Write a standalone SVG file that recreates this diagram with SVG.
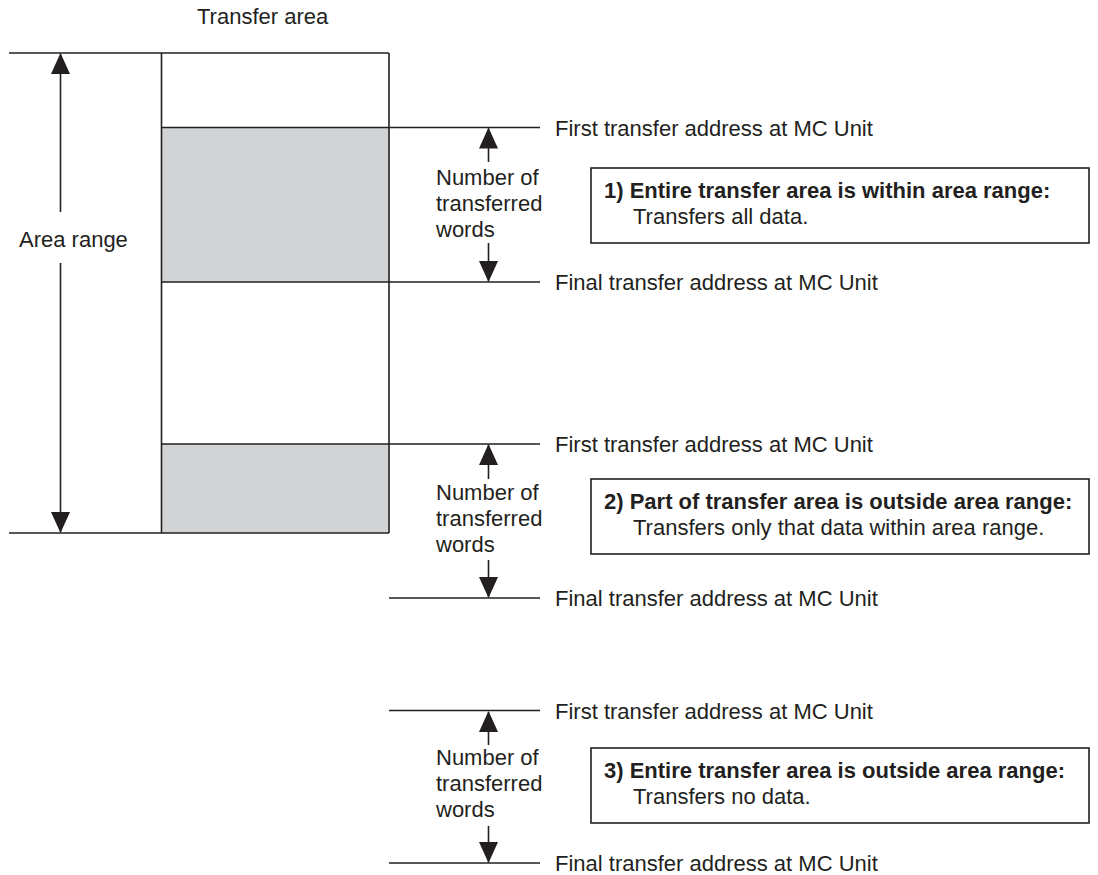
<svg xmlns="http://www.w3.org/2000/svg" width="1098" height="875" viewBox="0 0 1098 875">
<style>
text{font-family:"Liberation Sans",Arial,sans-serif;font-size:22px;fill:#231f20}
.b{font-weight:bold}
.ln{stroke:#231f20;stroke-width:1.6;fill:none}
.box{stroke:#231f20;stroke-width:1.6;fill:#fff}
.gray{fill:#d1d3d4}
</style>
<defs>
<marker id="ah" markerUnits="userSpaceOnUse" viewBox="0 0 21 19" refX="20" refY="9.5" markerWidth="21" markerHeight="19" orient="auto">
<path d="M0,0 L21,9.5 L0,19 z" fill="#231f20"/>
</marker>
</defs>
<rect width="1098" height="875" fill="#fff"/>
<g id="transfer-area">
<rect class="gray" x="161.5" y="127.5" width="227.5" height="154.5"/>
<rect class="gray" x="161.5" y="444" width="227.5" height="89"/>
<line class="ln" x1="161.5" y1="53" x2="161.5" y2="533"/>
<line class="ln" x1="389" y1="53" x2="389" y2="533"/>
<text x="197" y="24">Transfer area</text>
</g>
<g id="area-range">
<line class="ln" x1="9" y1="53" x2="389" y2="53"/>
<line class="ln" x1="9" y1="533" x2="389" y2="533"/>
<text x="19" y="247">Area range</text>
</g>
<g id="connectors">
<line class="ln" x1="60.5" y1="212" x2="60.5" y2="54" marker-end="url(#ah)"/>
<line class="ln" x1="60.5" y1="263" x2="60.5" y2="532" marker-end="url(#ah)"/>
<line class="ln" x1="488.5" y1="162" x2="488.5" y2="128.5" marker-end="url(#ah)"/>
<line class="ln" x1="488.5" y1="243" x2="488.5" y2="281" marker-end="url(#ah)"/>
<line class="ln" x1="488.5" y1="479" x2="488.5" y2="445" marker-end="url(#ah)"/>
<line class="ln" x1="488.5" y1="560" x2="488.5" y2="597" marker-end="url(#ah)"/>
<line class="ln" x1="488.5" y1="745" x2="488.5" y2="712" marker-end="url(#ah)"/>
<line class="ln" x1="488.5" y1="826" x2="488.5" y2="862" marker-end="url(#ah)"/>
</g>
<g id="case1">
<line class="ln" x1="161.5" y1="127.5" x2="540" y2="127.5"/>
<line class="ln" x1="161.5" y1="282" x2="540" y2="282"/>
<text x="555" y="135.5">First transfer address at MC Unit</text>
<text x="555" y="290">Final transfer address at MC Unit</text>
<text x="436" y="185">Number of</text>
<text x="436" y="211">transferred</text>
<text x="436" y="237">words</text>
<rect class="box" x="591" y="168" width="498" height="75"/>
<text class="b" x="604" y="198">1) Entire transfer area is within area range:</text>
<text x="633" y="224">Transfers all data.</text>
</g>
<g id="case2">
<line class="ln" x1="161.5" y1="444" x2="540" y2="444"/>
<line class="ln" x1="389" y1="598" x2="540" y2="598"/>
<text x="555" y="452">First transfer address at MC Unit</text>
<text x="555" y="606">Final transfer address at MC Unit</text>
<text x="436" y="500">Number of</text>
<text x="436" y="526">transferred</text>
<text x="436" y="552">words</text>
<rect class="box" x="591" y="479" width="498" height="75"/>
<text class="b" x="604" y="509">2) Part of transfer area is outside area range:</text>
<text x="633" y="535">Transfers only that data within area range.</text>
</g>
<g id="case3">
<line class="ln" x1="389" y1="710.5" x2="540" y2="710.5"/>
<line class="ln" x1="389" y1="863" x2="540" y2="863"/>
<text x="555" y="718.5">First transfer address at MC Unit</text>
<text x="555" y="871">Final transfer address at MC Unit</text>
<text x="436" y="765">Number of</text>
<text x="436" y="791">transferred</text>
<text x="436" y="817">words</text>
<rect class="box" x="591" y="748" width="498" height="75"/>
<text class="b" x="604" y="778">3) Entire transfer area is outside area range:</text>
<text x="633" y="804">Transfers no data.</text>
</g>
</svg>
